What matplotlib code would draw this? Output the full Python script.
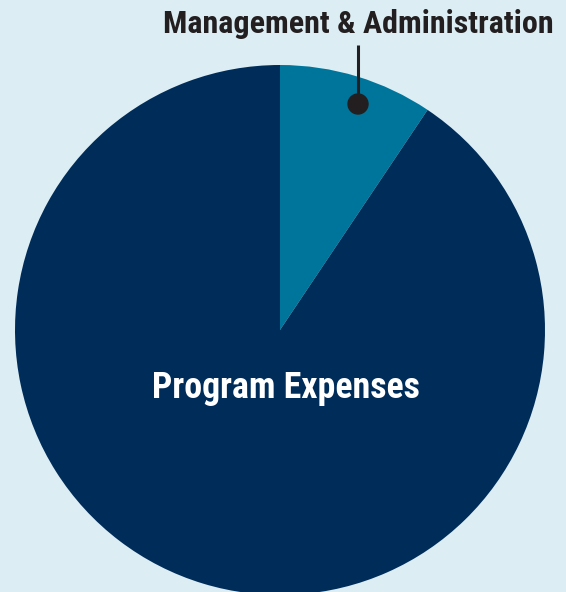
import matplotlib.pyplot as plt
from matplotlib import font_manager
from matplotlib.patches import Circle

# Share of expenses
categories = ['Management & Administration', 'Program Expenses']
shares = [9.4, 90.6]
colors = ['#00759b', '#002c5a']

# pick a condensed bold face if one is installed
font_file = None
for f in font_manager.fontManager.ttflist:
    name = f.fname.lower()
    if ('narrow' in name or 'condensed' in name) and 'bold' in name and 'oblique' not in name and 'italic' not in name:
        font_file = f.fname
        if 'liberation' in name:
            break
fp = font_manager.FontProperties(fname=font_file) if font_file else \
    font_manager.FontProperties(family='DejaVu Sans', weight='bold', stretch='condensed')

W, H = 566, 592
fig = plt.figure(figsize=(W / 100, H / 100), dpi=100)
fig.patch.set_facecolor('#dcedf3')
ax = fig.add_axes([0, 0, 1, 1])
ax.set_facecolor('#dcedf3')

# pie in pixel coordinates (y up)
cx, cy, r = 280, H - 330, 265
ax.pie(shares, colors=colors, startangle=90, counterclock=False,
       center=(cx, cy), radius=r, frame=True,
       wedgeprops=dict(linewidth=0))

ax.set_xlim(0, W)
ax.set_ylim(0, H)
ax.set_aspect('equal')
ax.axis('off')

# callout for the small slice
t1 = ax.text(358, H - 24, categories[0], ha='center', va='center',
             fontproperties=fp, fontsize=24, color='#231f20')
ax.plot([358, 358], [H - 45, H - 104], color='#231f20', lw=2.2,
        solid_capstyle='butt')
ax.add_patch(Circle((358, H - 104), 10, color='#231f20', zorder=5))

t2 = ax.text(286, H - 388, categories[1], ha='center', va='center',
             fontproperties=fp, fontsize=28, color='white')

# fit the label widths to the reference
renderer = fig.canvas.get_renderer()
for t, target in [(t1, 391), (t2, 268)]:
    w = t.get_window_extent(renderer).width
    t.set_fontsize(t.get_fontsize() * target / w)

fig.savefig('out.png', dpi=100, facecolor=fig.get_facecolor())
